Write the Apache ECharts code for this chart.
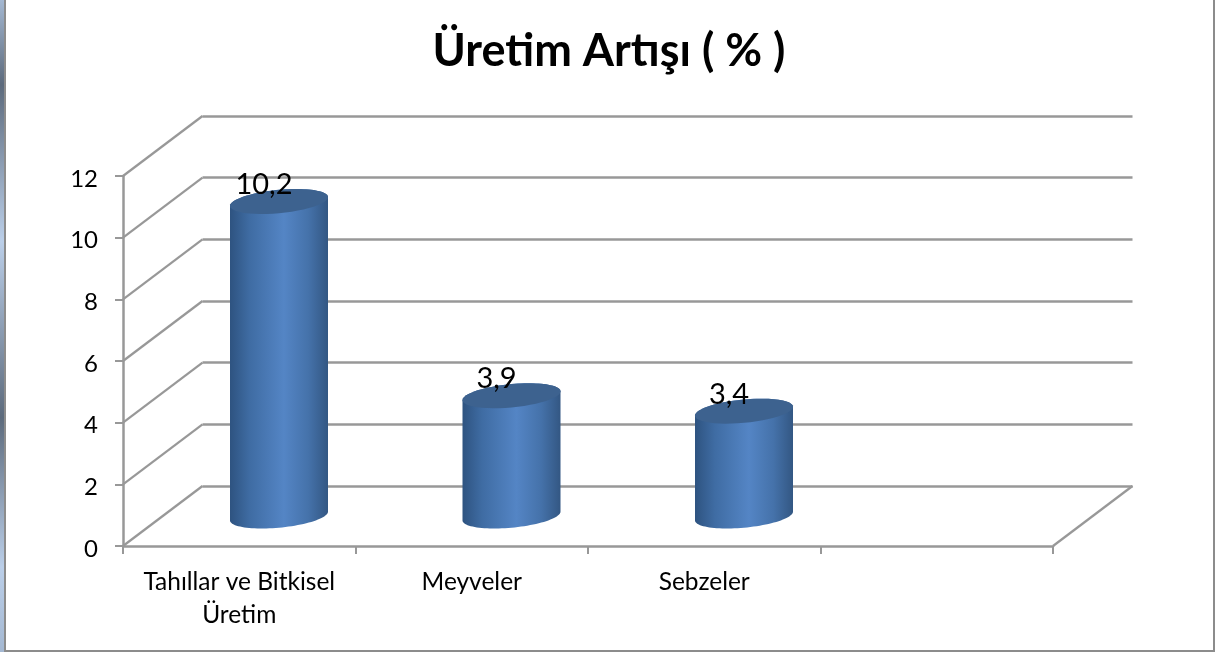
<!DOCTYPE html>
<html><head><meta charset="utf-8">
<style>html,body{margin:0;padding:0;background:#fff}#c{width:1215px;height:652px}</style>
<script src="https://cdn.jsdelivr.net/npm/echarts@6/dist/echarts.min.js"></script>
</head><body><div id="c"></div>
<script>
const titleText = 'Üretim Artışı ( % )';
const categories = ['Tahıllar ve Bitkisel\nÜretim', 'Meyveler', 'Sebzeler', ''];
const values = [10.2, 3.9, 3.4, null];
const yTicks = [0, 2, 4, 6, 8, 10, 12];

const FONT = 'Lato, Carlito, sans-serif';
const GRID = '#989898';
const DX = 79.5, DY = -60;      // depth of the 3D box
const RX = 49, RY = 11.7, SHEAR = 0.09;
const chart = echarts.init(document.getElementById('c'), null, {renderer: 'canvas'});

function ellipsePts(cx, cy, from, to) {
  const pts = [];
  for (let i = 0; i <= 48; i++) {
    const t = from + (to - from) * i / 48;
    pts.push([cx + RX * Math.cos(t), cy + RY * Math.sin(t) - SHEAR * RX * Math.cos(t)]);
  }
  return pts;
}

chart.setOption({
  animation: false,
  backgroundColor: '#fff',
  title: {text: titleText, left: 604, top: 24, textAlign: 'center',
    textStyle: {fontFamily: FONT, fontSize: 45, fontWeight: 'bold', color: '#000'}},
  graphic: [
    {type: 'rect', z: 100, silent: true, shape: {x: 0, y: 0, width: 4, height: 652},
      style: {fill: new echarts.graphic.LinearGradient(0, 0, 0, 1, [
        {offset: 0, color: '#a4b8d2'}, {offset: 0.13, color: '#5c6a7c'},
        {offset: 0.37, color: '#bbcfe9'}, {offset: 0.64, color: '#5c6a7c'},
        {offset: 0.87, color: '#bbcfe9'}, {offset: 1, color: '#a4b8d2'}])}},
    {type: 'rect', z: 100, silent: true, shape: {x: 4, y: 0, width: 2, height: 652}, style: {fill: '#8c8c8c'}},
    {type: 'rect', z: 100, silent: true, shape: {x: 1213, y: 0, width: 2, height: 652}, style: {fill: '#8c8c8c'}},
    {type: 'rect', z: 100, silent: true, shape: {x: 4, y: 650, width: 1211, height: 2}, style: {fill: '#8c8c8c'}}
  ],
  grid: [
    {left: 123, top: 176, width: 930, height: 370},
    {left: 123 + DX, top: 176 + DY, width: 930, height: 370}
  ],
  xAxis: [
    {type: 'category', gridIndex: 0, data: categories, boundaryGap: true,
      axisLine: {lineStyle: {color: GRID, width: 2.5}},
      axisTick: {show: true, alignWithLabel: false, length: 8, lineStyle: {color: GRID, width: 2}},
      axisLabel: {interval: 0, margin: 20, fontFamily: FONT, fontSize: 24.5, color: '#000', lineHeight: 33}},
    {type: 'category', gridIndex: 1, data: categories, show: false}
  ],
  yAxis: [
    {type: 'value', gridIndex: 0, min: 0, max: 12, interval: 2,
      axisLine: {show: true, lineStyle: {color: GRID, width: 2.5}},
      axisTick: {show: true, length: 8, lineStyle: {color: GRID, width: 2}},
      splitLine: {show: false},
      axisLabel: {margin: 25, fontFamily: FONT, fontSize: 24, color: '#000', padding: [3, 0, 0, 0], verticalAlign: 'top', lineHeight: 0}},
    {type: 'value', gridIndex: 1, min: 0, max: 12, interval: 2,
      axisLine: {show: false}, axisTick: {show: false}, axisLabel: {show: false},
      splitLine: {show: true, lineStyle: {color: GRID, width: 2.5}}}
  ],
  series: [
    {type: 'custom', name: 'depth', xAxisIndex: 0, yAxisIndex: 0, silent: true, z: 1,
      coordinateSystem: 'cartesian2d', clip: false,
      data: yTicks.map(v => [0, v]),
      encode: {x: -1, y: 1},
      renderItem(params, api) {
        const g = api.coord([0, api.value(1)]);
        const x0 = params.coordSys.x;
        const children = [{type: 'line', shape: {x1: x0, y1: g[1], x2: x0 + DX, y2: g[1] + DY},
          style: {stroke: GRID, lineWidth: 2.2}}];
        if (api.value(1) === 0) {
          const x1 = x0 + params.coordSys.width;
          children.push({type: 'line', shape: {x1, y1: g[1], x2: x1 + DX, y2: g[1] + DY},
            style: {stroke: GRID, lineWidth: 2.2}});
        }
        return {type: 'group', children};
      }},
    {type: 'custom', name: 'Üretim Artışı', xAxisIndex: 0, yAxisIndex: 0, z: 5, clip: false,
      data: values.map((v, i) => [i, v]),
      encode: {x: 0, y: 1},
      renderItem(params, api) {
        const v = api.value(1);
        if (v == null || isNaN(v)) return null;
        const top = api.coord([api.value(0), v]);
        const base = api.coord([api.value(0), 0]);
        const cx = top[0] + DX / 2, ty = top[1] + DY / 2, by = base[1] + DY / 2;
        const lower = ellipsePts(cx, by, Math.PI, 0);
        const body = lower.concat(ellipsePts(cx, ty, 0, -Math.PI));
        return {type: 'group', children: [
          {type: 'polygon', shape: {points: body}, style: {
            fill: new echarts.graphic.LinearGradient(0, 0, 1, 0, [
              {offset: 0, color: '#2e5380'}, {offset: 0.2, color: '#3f6ca3'},
              {offset: 0.55, color: '#5485c5'}, {offset: 0.8, color: '#4572aa'},
              {offset: 1, color: '#335783'}])}},
          {type: 'polygon', shape: {points: ellipsePts(cx, ty, 0, Math.PI * 2)},
            style: {fill: '#3d628f'}},
          {type: 'text', z2: 10, style: {text: String(v).replace('.', ','), x: cx - 15, y: ty - 17,
            align: 'center', verticalAlign: 'middle', fontFamily: FONT, fontSize: 29, fill: '#000'}}
        ]};
      }}
  ]
});
</script></body></html>
